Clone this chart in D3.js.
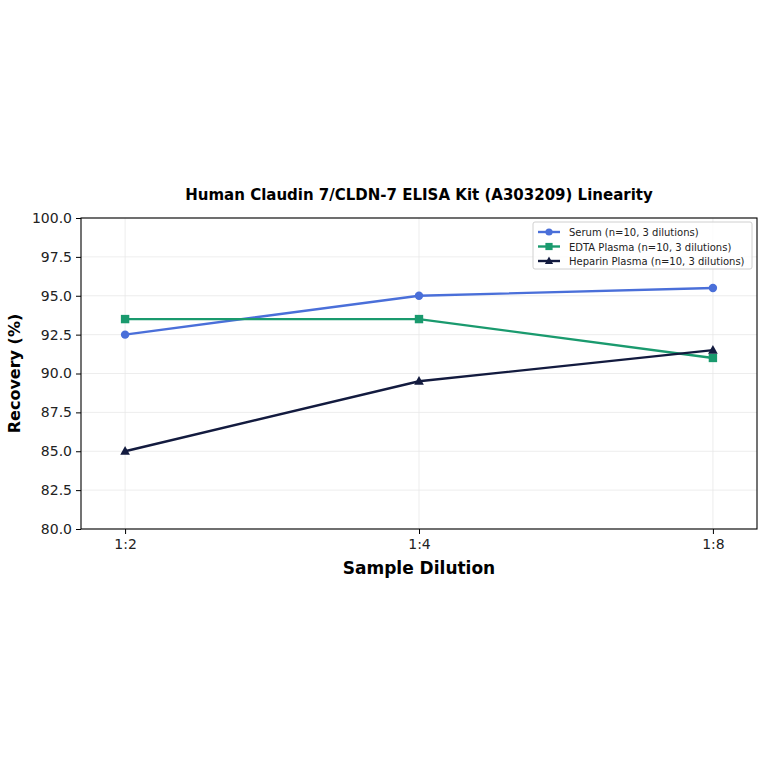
<!DOCTYPE html>
<html>
<head>
<meta charset="utf-8">
<script src="https://cdn.jsdelivr.net/npm/d3@7"></script>
<style>
  body { margin: 0; background: #fff; }
  svg { font-family: "DejaVu Sans", sans-serif; }
  .grid line { stroke: #e8e8e8; stroke-width: 0.8; }
  .axis line { stroke: #000; }
</style>
</head>
<body>
<script>
(function(){
    //chart data
    var dilutions = ["1:2", "1:4", "1:8"];
    var serum = [92.5, 95.0, 95.5];
    var edta = [93.5, 93.5, 91.0];
    var heparin = [85.0, 89.5, 91.5];
    var seriesNames = ["Serum (n=10, 3 dilutions)", "EDTA Plasma (n=10, 3 dilutions)", "Heparin Plasma (n=10, 3 dilutions)"];
    var yTicks = [80, 82.5, 85, 87.5, 90, 92.5, 95, 97.5, 100];

    var series = [
        {name: seriesNames[0], values: serum, color: "#4a6fd9", marker: "circle"},
        {name: seriesNames[1], values: edta, color: "#1a9a6e", marker: "square"},
        {name: seriesNames[2], values: heparin, color: "#131b3f", marker: "triangle"}
    ];

    var width = 764, height = 764,
        left = 81, right = 757, top = 218, bottom = 529;

    var svg = d3.select("body").append("svg")
        .attr("width", width)
        .attr("height", height);

    var x = d3.scaleLinear().domain([-0.15, 2.15]).range([left, right]);
    var y = d3.scaleLinear().domain([80, 100]).range([bottom, top]);

    //grid
    var grid = svg.append("g").attr("class", "grid");
    grid.selectAll(".gy").data(yTicks).enter().append("line")
        .attr("x1", left).attr("x2", right)
        .attr("y1", function(d){ return y(d); })
        .attr("y2", function(d){ return y(d); });
    grid.selectAll(".gx").data(dilutions).enter().append("line")
        .attr("y1", top).attr("y2", bottom)
        .attr("x1", function(d, i){ return x(i); })
        .attr("x2", function(d, i){ return x(i); });

    //axes
    var yAxis = svg.append("g").attr("class", "axis")
        .attr("transform", "translate(" + left + ",0)")
        .call(d3.axisLeft(y).tickValues(yTicks).tickFormat(d3.format(".1f")).tickSizeOuter(0).tickSize(5).tickPadding(4));
    var xAxis = svg.append("g").attr("class", "axis")
        .attr("transform", "translate(0," + bottom + ")")
        .call(d3.axisBottom(x).tickValues([0, 1, 2]).tickFormat(function(d){ return dilutions[d]; }).tickSizeOuter(0).tickSize(5).tickPadding(5));
    [xAxis, yAxis].forEach(function(a){
        a.select(".domain").remove();
        a.attr("font-family", null).attr("font-size", null);
        a.selectAll("text").attr("font-size", "14px").attr("fill", "#222");
    });

    //frame
    svg.append("rect")
        .attr("x", left).attr("y", top)
        .attr("width", right - left).attr("height", bottom - top)
        .attr("fill", "none").attr("stroke", "#000").attr("stroke-width", 1.1);

    //lines and markers
    var line = d3.line()
        .x(function(d, i){ return x(i); })
        .y(function(d){ return y(d); });

    function drawMarker(g, type, cx, cy, color, s) {
        if (type === "circle") {
            g.append("circle").attr("cx", cx).attr("cy", cy).attr("r", s).attr("fill", color);
        } else if (type === "square") {
            g.append("rect").attr("x", cx - s).attr("y", cy - s).attr("width", 2 * s).attr("height", 2 * s).attr("fill", color);
        } else {
            g.append("path")
                .attr("d", "M" + cx + "," + (cy - s * 1.25) + "L" + (cx + s * 1.15) + "," + (cy + s * 0.85) + "L" + (cx - s * 1.15) + "," + (cy + s * 0.85) + "Z")
                .attr("fill", color);
        }
    }

    series.forEach(function(s){
        var g = svg.append("g");
        g.append("path")
            .datum(s.values)
            .attr("d", line)
            .attr("fill", "none")
            .attr("stroke", s.color)
            .attr("stroke-width", 2.4);
        s.values.forEach(function(v, i){
            drawMarker(g, s.marker, x(i), y(v), s.color, 4.2);
        });
    });

    //legend
    var lg = svg.append("g").attr("transform", "translate(533,222)");
    lg.append("rect")
        .attr("width", 219).attr("height", 47).attr("rx", 2)
        .attr("fill", "#fff").attr("fill-opacity", 0.8)
        .attr("stroke", "#d0d0d0");
    series.forEach(function(s, i){
        var ly = 10 + i * 14.5;
        lg.append("line").attr("x1", 5).attr("x2", 27).attr("y1", ly).attr("y2", ly)
            .attr("stroke", s.color).attr("stroke-width", 2.4);
        drawMarker(lg, s.marker, 16, ly, s.color, 3.6);
        lg.append("text").attr("x", 36).attr("y", ly + 4)
            .attr("font-size", "10px").attr("fill", "#222")
            .text(s.name);
    });

    //title and labels
    svg.append("text")
        .attr("x", (left + right) / 2).attr("y", 200)
        .attr("text-anchor", "middle")
        .attr("font-size", "15px").attr("font-weight", "bold")
        .text("Human Claudin 7/CLDN-7 ELISA Kit (A303209) Linearity");
    svg.append("text")
        .attr("x", (left + right) / 2).attr("y", 574)
        .attr("text-anchor", "middle")
        .attr("font-size", "17px").attr("font-weight", "bold")
        .text("Sample Dilution");
    svg.append("text")
        .attr("transform", "translate(20," + ((top + bottom) / 2) + ") rotate(-90)")
        .attr("text-anchor", "middle")
        .attr("font-size", "16px").attr("font-weight", "bold")
        .text("Recovery (%)");
})();
</script>
</body>
</html>
